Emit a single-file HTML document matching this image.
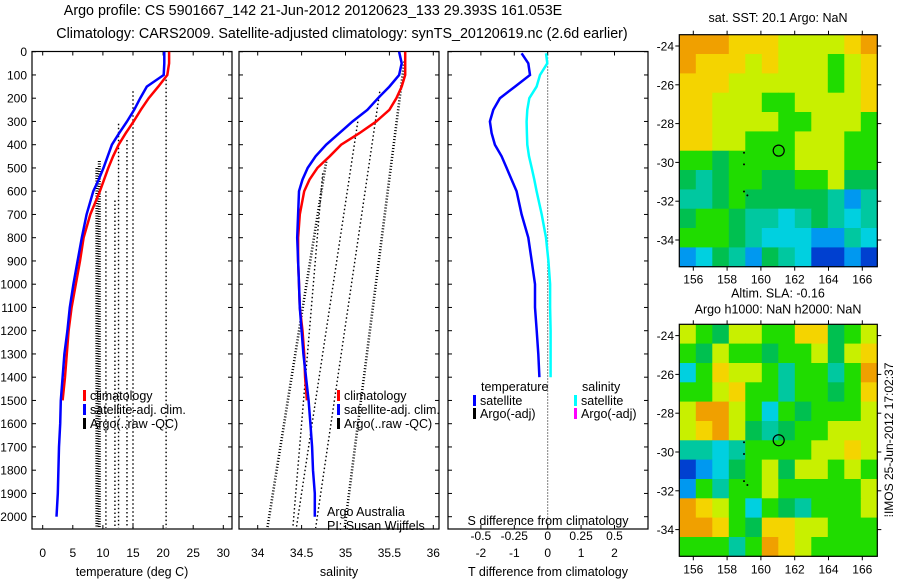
<!DOCTYPE html>
<html><head><meta charset="utf-8">
<style>
html,body{margin:0;padding:0;background:#fff;}
svg{display:block;font-family:"Liberation Sans",sans-serif;}
text{fill:#000;}
</style></head>
<body>
<svg id="fig" width="900" height="580" viewBox="0 0 900 580" xmlns="http://www.w3.org/2000/svg">
<text x="313" y="15" font-size="14.3" text-anchor="middle">Argo profile: CS 5901667_142 21-Jun-2012 20120623_133 29.393S 161.053E</text>
<text x="342" y="38" font-size="14.3" text-anchor="middle">Climatology: CARS2009. Satellite-adjusted climatology: synTS_20120619.nc (2.6d earlier)</text>
<g id="p1"></g>
<g id="p2"></g>
<g id="p3"></g>
<g id="m1"></g>
<g id="m2"></g>
<text x="0" y="0" font-size="12" text-anchor="middle" transform="translate(893,440) rotate(-90)">⁞IMOS 25-Jun-2012 17:02:37</text>
</svg>
<script>
// ---------- data ----------
const depths = [0,50,100,150,200,250,300,350,400,450,500,550,600,700,800,900,1000,1100,1200,1300,1400,1500,1600,1700,1800,1900,2000];
const tempClim = [21,21,20.7,19.2,17.6,16.3,15.1,13.8,12.6,11.7,10.9,10.2,9.5,7.9,6.8,6.2,5.5,4.8,4.3,4.0,3.7,3.3];
const tempSat = [20.2,20.2,20.1,17.3,16.2,15.2,14.0,12.7,11.5,10.8,10.1,9.3,8.4,7.3,6.5,5.8,5.1,4.5,4.1,3.6,3.3,3.0,2.9,2.7,2.6,2.5,2.3];
const salClim = [35.68,35.68,35.68,35.64,35.58,35.50,35.35,35.16,34.95,34.82,34.68,34.59,34.53,34.48,34.46,34.46,34.47,34.48,34.51,34.53,34.54,34.56];
const salSat = [35.61,35.64,35.61,35.50,35.37,35.25,35.08,34.93,34.78,34.66,34.57,34.51,34.47,34.46,34.45,34.46,34.47,34.48,34.50,34.52,34.55,34.58,34.60,34.62,34.63,34.65,34.65];
const tempDiff = [-0.78,-0.58,-0.53,-0.98,-1.43,-1.63,-1.73,-1.68,-1.58,-1.38,-1.23,-1.08,-0.93,-0.78,-0.58,-0.48,-0.38,-0.38,-0.33,-0.28,-0.25];
const salDiff = [-0.013,-0.003,-0.058,-0.083,-0.138,-0.153,-0.158,-0.156,-0.153,-0.14,-0.12,-0.10,-0.083,-0.045,-0.013,0.005,0.018,0.018,0.022,0.022,0.022];
const diffDepths = [7,50,100,150,200,250,300,350,400,450,500,550,600,700,800,900,1000,1100,1200,1300,1400];
const argoTempX = [9.0,9.4,10.5,12.0,12.6,14.0,15.0,20.5];
const argoTempTop = [500,470,600,640,310,380,170,120];
const argoSalTop = [35.67,35.39,35.14,34.78,34.74];
const argoSalBot = [34.99,34.66,34.44,34.11,34.40];
const argoSalTopD = [43,172,301,473,523];
const depthTicks = [0,100,200,300,400,500,600,700,800,900,1000,1100,1200,1300,1400,1500,1600,1700,1800,1900,2000];
const tempTicks = [0,5,10,15,20,25,30];
const salTicks = [34,34.5,35,35.5,36];
const tdTicks = [-2,-1,0,1,2];
const sdTicks = [-0.5,-0.25,0,0.25,0.5];
const lonTicks = [156,158,160,162,164,166];
const latTicks = [-24,-26,-28,-30,-32,-34];
const sstGrid = ["OOOYYYLLLLYO","OYYYLYLLLGLY","YYYLLLLLLGLY","YYLLLGGLLLLY","YYLLLLGGLLLG","YYLLGGGLLLGG","GGgGGGGLLLGG","gTgGGggGGLgg","TTgGgggggTBT","gGGgTTCTgTCT","GGGgTCCCBBTC","BCgTBgTCDDBD"];
const slaGrid = ["LGgLLGGYYgGL","GgLGGgGGLgLY","CGYLLGTGGTGO","GGLYGGTGGgGY","LOOLGCGgGGGL","LYOLgTgGGLLL","TTCTGGGGLLYL","DBCgGLgLLGLG","BGTGGLGGGGGL","OYLGCGgTGGGL","OOYGgYYLLGGG","GGGTGOYLGGGG"];
const argoLon = 161.053, argoLat = -29.393;

// ---------- scales ----------
const NS="http://www.w3.org/2000/svg";
const yD = d => 51.7 + d*0.2325;
const xT = t => 42.7 + t*6.02;
const xS = s => 257.7 + (s-34)*87.8;
const xTd = t => 547.7 + t*33.4;
const xSd = s => 547.7 + s*133.6;
function mk(parent, tag, attrs, txt){
  const e=document.createElementNS(NS,tag);
  for(const k in attrs) e.setAttribute(k,attrs[k]);
  if(txt!==undefined) e.textContent=txt;
  parent.appendChild(e); return e;
}
function panel(g,x0,x1,name){
  const r=mk(g,'rect',{x:x0,y:51.5,width:x1-x0,height:477.5,fill:'none',stroke:'#000','stroke-width':1.2});
  
  
  depthTicks.forEach(d=>{
    const y=yD(d);
    mk(g,'line',{x1:x0,x2:x0+4,y1:y,y2:y,stroke:'#000'});
    mk(g,'line',{x1:x1-4,x2:x1,y1:y,y2:y,stroke:'#000'});
  });
}
function poly(g,xs,ys,col,name,w){
  const p=mk(g,'polyline',{points:xs.map((x,i)=>x.toFixed(1)+','+ys[i].toFixed(1)).join(' '),fill:'none',stroke:col,'stroke-width':w||2.5});
  
  
}
function legend(g,x,y,col,label,name){
  mk(g,'rect',{x:x,y:y-10,width:3,height:11,fill:col});
  const t=mk(g,'text',{x:x+7,y:y,'font-size':12.5},label);
  
  
}

// ---------- panel 1 ----------
const p1=document.getElementById('p1');
panel(p1,32,232,'temperature-panel');
depthTicks.forEach(d=>{
  const t=mk(p1,'text',{x:27,y:yD(d)+4.5,'font-size':12,'text-anchor':'end'},String(d));
  
  
});
tempTicks.forEach(v=>{
  const x=xT(v);
  mk(p1,'line',{x1:x,x2:x,y1:51.5,y2:55.5,stroke:'#000'});
  mk(p1,'line',{x1:x,x2:x,y1:525,y2:529,stroke:'#000'});
  const t=mk(p1,'text',{x:x,y:557,'font-size':12,'text-anchor':'middle'},String(v));
  
  
});
argoTempX.forEach((v,i)=>{
  const l=mk(p1,'line',{x1:xT(v),x2:xT(v),y1:yD(argoTempTop[i]),y2:528,stroke:'#000','stroke-width':i<2?3:1.4,'stroke-dasharray':i<2?'1 1.5':'1.5 2.5'});
  
  
});
poly(p1,tempClim.map(xT),depths.slice(0,tempClim.length).map(yD),'#ff0000','temperature-climatology-line');
poly(p1,tempSat.map(xT),depths.map(yD),'#0000ff','temperature-satellite-line');
legend(p1,83,400,'#ff0000','climatology','legend-climatology');
legend(p1,83,414,'#0000ff','satellite-adj. clim.','legend-satellite');
legend(p1,83,428,'#000','Argo(..raw -QC)','legend-argo');
mk(p1,'text',{x:132,y:576,'font-size':12.5,'text-anchor':'middle'},'temperature (deg C)');

// ---------- panel 2 ----------
const p2=document.getElementById('p2');
panel(p2,239,439,'salinity-panel');
salTicks.forEach(v=>{
  const x=xS(v);
  mk(p2,'line',{x1:x,x2:x,y1:51.5,y2:55.5,stroke:'#000'});
  mk(p2,'line',{x1:x,x2:x,y1:525,y2:529,stroke:'#000'});
  const t=mk(p2,'text',{x:x,y:557,'font-size':12,'text-anchor':'middle'},String(v));
  
  
});
argoSalTop.forEach((v,i)=>{
  const l=mk(p2,'line',{x1:xS(v),x2:xS(argoSalBot[i]),y1:yD(argoSalTopD[i]),y2:528,stroke:'#000','stroke-width':i===0||i===3?2.6:1.4,'stroke-dasharray':i===0||i===3?'1 2':'1.5 2.5'});
  
  
});
poly(p2,salClim.map(xS),depths.slice(0,salClim.length).map(yD),'#ff0000','salinity-climatology-line');
poly(p2,salSat.map(xS),depths.map(yD),'#0000ff','salinity-satellite-line');
legend(p2,337,400,'#ff0000','climatology','legend-climatology-2');
legend(p2,337,414,'#0000ff','satellite-adj. clim.','legend-satellite-2');
legend(p2,337,428,'#000','Argo(..raw -QC)','legend-argo-2');
mk(p2,'text',{x:327,y:516,'font-size':12.5},'Argo Australia');
mk(p2,'text',{x:327,y:530,'font-size':12.5},'PI: Susan Wijffels');
mk(p2,'text',{x:339,y:576,'font-size':12.5,'text-anchor':'middle'},'salinity');

// ---------- panel 3 ----------
const p3=document.getElementById('p3');
panel(p3,448,648,'difference-panel');
mk(p3,'line',{x1:xTd(0),x2:xTd(0),y1:51.5,y2:529,stroke:'#000','stroke-width':1,'stroke-dasharray':'1 2'});
tdTicks.forEach(v=>{
  const x=xTd(v);
  mk(p3,'line',{x1:x,x2:x,y1:525,y2:529,stroke:'#000'});
  const t=mk(p3,'text',{x:x,y:557,'font-size':12,'text-anchor':'middle'},String(v));
  
  
});
sdTicks.forEach(v=>{
  const x=xSd(v);
  mk(p3,'line',{x1:x,x2:x,y1:51.5,y2:55.5,stroke:'#000'});
  const t=mk(p3,'text',{x:x,y:540,'font-size':12,'text-anchor':'middle'},String(v));
  
  
});
poly(p3,salDiff.map(xSd),diffDepths.map(yD),'#00ffff','salinity-difference-line');
poly(p3,tempDiff.map(xTd),diffDepths.map(yD),'#0000ff','temperature-difference-line');
mk(p3,'text',{x:481,y:391,'font-size':12.5},'temperature');
legend(p3,473,405,'#0000ff','satellite','legend-t-satellite');
legend(p3,473,418,'#000','Argo(-adj)','legend-t-argo');
mk(p3,'text',{x:582,y:391,'font-size':12.5},'salinity');
legend(p3,574,405,'#00ffff','satellite','legend-s-satellite');
legend(p3,574,418,'#ff00ff','Argo(-adj)','legend-s-argo');
mk(p3,'text',{x:548,y:525,'font-size':12.5,'text-anchor':'middle'},'S difference from climatology');
mk(p3,'text',{x:548,y:576,'font-size':12.5,'text-anchor':'middle'},'T difference from climatology');

// ---------- maps ----------
const COL={O:'#f0a000',Y:'#f4d400',L:'#c8f000',G:'#20dc00',g:'#00c050',T:'#00c8a0',C:'#00d0e0',B:'#0098f0',D:'#0040d0'};
function map(g,oy,grid,titles,name){
  const x0=679.3,x1=877.3,y0=34.7+oy,y1=266.7+oy;
  const cw=(x1-x0)/12,ch=(y1-y0)/12;
  grid.forEach((row,r)=>{
    for(let c=0;c<12;c++){
      const cell=mk(g,'rect',{x:(x0+c*cw).toFixed(1),y:(y0+r*ch).toFixed(1),width:(cw+0.5).toFixed(1),height:(ch+0.5).toFixed(1),fill:COL[row[c]]});
      
      
    }
  });
  mk(g,'rect',{x:x0,y:y0,width:x1-x0,height:y1-y0,fill:'none',stroke:'#000','stroke-width':1.2});
  const lx = v => 693.3+(v-156)*16.9;
  const ly = v => 46+oy+(-24-v)*19.4;
  lonTicks.forEach(v=>{
    mk(g,'line',{x1:lx(v),x2:lx(v),y1:y0,y2:y0-4,stroke:'#000'});
    mk(g,'line',{x1:lx(v),x2:lx(v),y1:y1,y2:y1+4,stroke:'#000'});
    mk(g,'text',{x:lx(v),y:y1+17,'font-size':12,'text-anchor':'middle'},String(v));
  });
  latTicks.forEach(v=>{
    mk(g,'line',{x1:x0,x2:x0-4,y1:ly(v),y2:ly(v),stroke:'#000'});
    mk(g,'line',{x1:x1,x2:x1+4,y1:ly(v),y2:ly(v),stroke:'#000'});
    mk(g,'text',{x:674,y:ly(v)+4.5,'font-size':12,'text-anchor':'end'},String(v));
  });
  const c=mk(g,'circle',{cx:lx(argoLon),cy:ly(argoLat),r:5.5,fill:'none',stroke:'#000','stroke-width':1.2});
  
  
  [[159,-29.5],[159,-30.1],[159,-31.5],[159.2,-31.7]].forEach(p=>mk(g,'circle',{cx:lx(p[0]),cy:ly(p[1]),r:1,fill:'#000'}));
  titles.forEach((t,i)=>mk(g,'text',{x:778,y:oy+(titles.length===1?47-25:0)+t[1],'font-size':12.5,'text-anchor':'middle'},t[0]));
}
map(document.getElementById('m1'),0,sstGrid,[['sat. SST: 20.1 Argo: NaN',0]],'sst-map');
map(document.getElementById('m2'),289.6,slaGrid,[['Altim. SLA: -0.16',8],['Argo h1000: NaN h2000: NaN',24]],'sla-map');
</script>
</body></html>
